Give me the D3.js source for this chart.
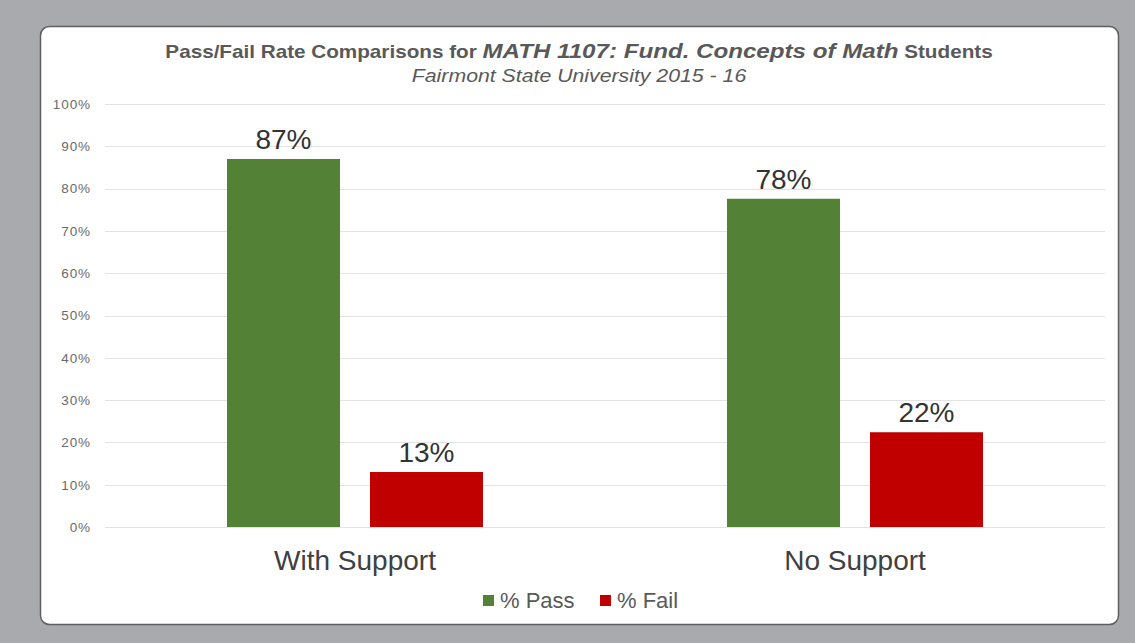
<!DOCTYPE html>
<html>
<head>
<meta charset="utf-8">
<script src="https://cdn.jsdelivr.net/npm/d3@7"></script>
<style>
    html, body { margin: 0; padding: 0; background: #a9aaae; }
    svg { display: block; font-family: 'Liberation Sans', Arial, sans-serif; }
</style>
</head>
<body>
<div id="chart"></div>
<script>
// data
const categories = ['With Support', 'No Support'];
const seriesNames = ['% Pass', '% Fail'];
const passValues = [87, 77.6];
const failValues = [13, 22.4];
const yTicks = [0, 10, 20, 30, 40, 50, 60, 70, 80, 90, 100];
const colors = ['#538135', '#c00000'];

const width = 1135;
const height = 643;
const margin = { top: 104, right: 30, bottom: 116, left: 105 };

const svg = d3.select('#chart')
    .append('svg')
    .attr('width', width)
    .attr('height', height);

// panel
svg.append('rect')
    .attr('x', 40.5)
    .attr('y', 26.5)
    .attr('width', 1078)
    .attr('height', 598)
    .attr('rx', 9)
    .attr('fill', '#ffffff')
    .attr('stroke', '#5f5f5f')
    .attr('stroke-width', 1.5);

const x0 = d3.scaleBand()
    .domain(categories)
    .range([margin.left, width - margin.right]);

const x1 = d3.scaleBand()
    .domain(seriesNames)
    .range([122, 378])
    .paddingInner(30 / 143);

const y = d3.scaleLinear()
    .domain([0, 100])
    .range([height - margin.bottom, margin.top]);

// gridlines
svg.append('g')
    .selectAll('line')
    .data(yTicks)
    .enter()
    .append('line')
    .attr('x1', margin.left)
    .attr('x2', width - margin.right)
    .attr('y1', d => Math.round(y(d)) + 0.5)
    .attr('y2', d => Math.round(y(d)) + 0.5)
    .attr('stroke', '#e3e3e3')
    .attr('stroke-width', 1.2);

// y axis labels
svg.append('g')
    .attr('transform', `translate(${margin.left - 14}, 0)`)
    .call(d3.axisLeft(y).tickValues(yTicks).tickSize(0).tickPadding(0).tickFormat(d => d + '%'))
    .call(g => g.select('.domain').remove())
    .call(g => g.selectAll('text')
        .attr('fill', '#6a6a6a')
        .attr('font-size', 13.5)
        .attr('letter-spacing', 0.9)
        .attr('font-family', "'Liberation Sans', Arial, sans-serif"));

// bars
const rows = categories.map((c, i) => ({ category: c, values: [passValues[i], failValues[i]] }));

const groups = svg.append('g')
    .selectAll('g')
    .data(rows)
    .enter()
    .append('g')
    .attr('transform', d => `translate(${x0(d.category)}, 0)`);

groups.selectAll('rect')
    .data(d => d.values.map((v, i) => ({ name: seriesNames[i], value: v, color: colors[i] })))
    .enter()
    .append('rect')
    .attr('x', d => x1(d.name))
    .attr('y', d => y(d.value))
    .attr('width', x1.bandwidth())
    .attr('height', d => y(0) - y(d.value))
    .attr('fill', d => d.color);

groups.selectAll('text')
    .data(d => d.values.map((v, i) => ({ name: seriesNames[i], value: v })))
    .enter()
    .append('text')
    .attr('x', d => x1(d.name) + x1.bandwidth() / 2)
    .attr('y', d => y(d.value) - 10)
    .attr('text-anchor', 'middle')
    .attr('font-size', 28)
    .attr('fill', '#333333')
    .text(d => Math.round(d.value) + '%');

// category labels
svg.append('g')
    .attr('transform', `translate(0, ${y(0)})`)
    .call(d3.axisBottom(x0).tickSize(0).tickPadding(23))
    .call(g => g.select('.domain').remove())
    .call(g => g.selectAll('text')
        .attr('fill', '#404040')
        .attr('font-size', 28)
        .attr('font-family', "'Liberation Sans', Arial, sans-serif"));

// title
const title = svg.append('text')
    .attr('transform', 'translate(579, 58) scale(1.15, 1)')
    .attr('text-anchor', 'middle')
    .attr('fill', '#595959')
    .attr('font-weight', 'bold')
    .attr('font-size', 18);
title.append('tspan').text('Pass/Fail Rate Comparisons for ');
title.append('tspan').attr('font-style', 'italic').attr('font-size', 21).text('MATH 1107: Fund. Concepts of Math');
title.append('tspan').text(' Students');

svg.append('text')
    .attr('transform', 'translate(579, 82) scale(1.15, 1)')
    .attr('text-anchor', 'middle')
    .attr('fill', '#595959')
    .attr('font-style', 'italic')
    .attr('font-size', 18.5)
    .text('Fairmont State University 2015 - 16');

// legend
const legend = svg.append('g')
    .selectAll('g')
    .data(seriesNames)
    .enter()
    .append('g')
    .attr('transform', (d, i) => `translate(${483 + i * 117}, 595)`);

legend.append('rect')
    .attr('width', 11)
    .attr('height', 11)
    .attr('fill', (d, i) => colors[i]);

legend.append('text')
    .attr('x', 17)
    .attr('y', 13)
    .attr('font-size', 22)
    .attr('fill', '#595959')
    .text(d => d);
</script>
</body>
</html>
